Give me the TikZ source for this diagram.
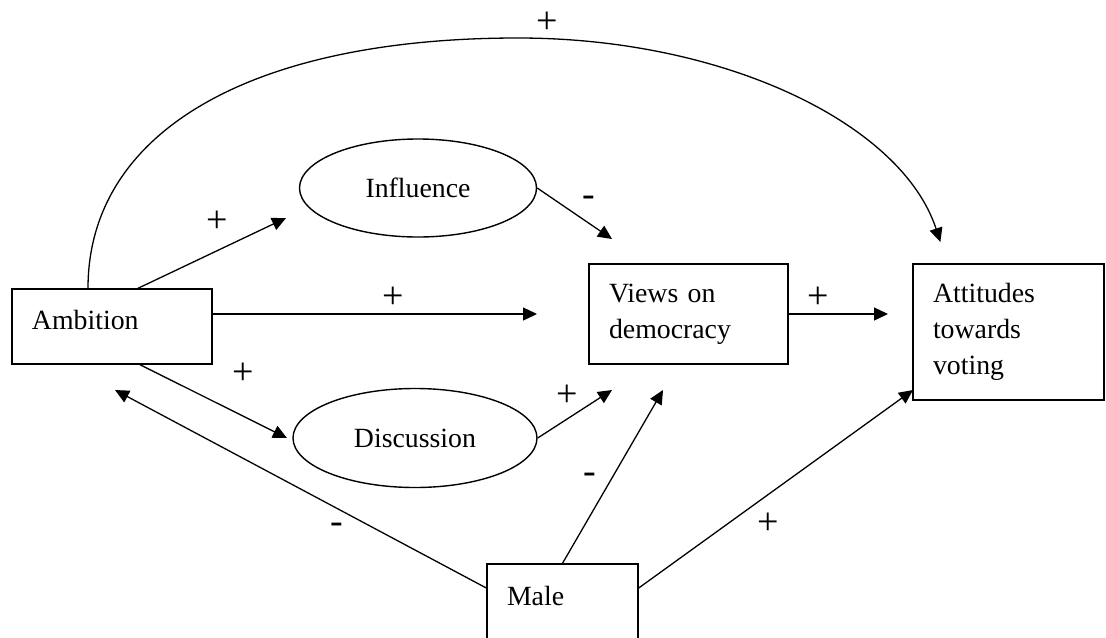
\documentclass[tikz,border=0pt]{standalone}
\usepackage{fontspec}
\setmainfont{Liberation Serif}
\usetikzlibrary{shapes.geometric,arrows.meta,calc}
\begin{document}
\begin{tikzpicture}[x=0.5pt,y=-0.5pt,
    box/.style={draw,line width=0.7pt,align=left,inner xsep=10pt,inner ysep=0pt,
      font=\fontsize{13.9}{18}\selectfont},
    oval/.style={draw,ellipse,line width=0.7pt,inner sep=0pt,
      font=\fontsize{13.9}{18}\selectfont},
    link/.style={line width=0.65pt,-{Triangle[length=7pt,width=6.5pt]}},
    sign/.style={inner sep=0pt,font=\fontsize{19}{20}\selectfont}]
  \useasboundingbox (0,0) rectangle (1106,637);
  \clip (0,0) rectangle (1106,637);
  % boxes and ovals
  \node[box,text width=80pt,minimum height=37.5pt,text depth=6.9pt] (amb) at (112,326.5) {Ambition};
  \node[box,text width=79.5pt,minimum height=50pt] (views) at (688.5,314) {Views on\\democracy};
  \node[box,text width=75.5pt,minimum height=68pt] (att) at (1008.5,332) {Attitudes\\towards\\voting};
  \node[box,text width=55.5pt,minimum height=41pt,text depth=9.5pt] (male) at (562.5,605) {Male};
  \node[oval,minimum width=118.5pt,minimum height=49pt] (infl) at (418,188) {Influence};
  \node[oval,minimum width=122pt,minimum height=49.5pt] (disc) at (415,438) {Discussion};
  % arrow tips
  \coordinate (arctop) at (518,38);
  \coordinate (tinfl) at (286,218);
  \coordinate (tviewsA) at (537,314);
  \coordinate (tdisc) at (287,438);
  \coordinate (tviewsI) at (612,239);
  \coordinate (tviewsD) at (612,390);
  \coordinate (tatt) at (888,314);
  \coordinate (tamb) at (115,390);
  \coordinate (tviewsM) at (663,390);
  \coordinate (tattM) at (913,390);
  % connectors
  \draw[link] ($(amb.north)+(-24,0)$) .. controls +(0,-155) and +(-270,0) .. (arctop)
    arc[start angle=270,end angle=349.2,x radius=430,y radius=251];
  \draw[link] ($(amb.north)+(26,0)$) -- (tinfl);
  \draw[link] ($(amb.east)+(0,-12.5)$) -- (tviewsA);
  \draw[link] ($(amb.south)+(28,0)$) -- (tdisc);
  \draw[link] (infl.east) -- (tviewsI);
  \draw[link] (disc.east) -- (tviewsD);
  \draw[link] (views.east) -- (tatt);
  \draw[link] ($(male.west)+(0,-17)$) -- (tamb);
  \draw[link] (male.north) -- (tviewsM);
  \draw[link] ($(male.east)+(0,-17)$) -- (tattM);
  % signs
  \node[sign] (s1) at (547,23) {+};
  \node[sign] (s2) at (217,222) {+};
  \node[sign] (s3) at (393,298) {+};
  \node[sign] (s4) at (243,374) {+};
  \node[sign] (s5) at (589,201) {-};
  \node[sign] (s6) at (567,396) {+};
  \node[sign] (s7) at (818,298) {+};
  \node[sign] (s8) at (337,528) {-};
  \node[sign] (s9) at (590,478) {-};
  \node[sign] (s10) at (768,524) {+};
\end{tikzpicture}
\end{document}
